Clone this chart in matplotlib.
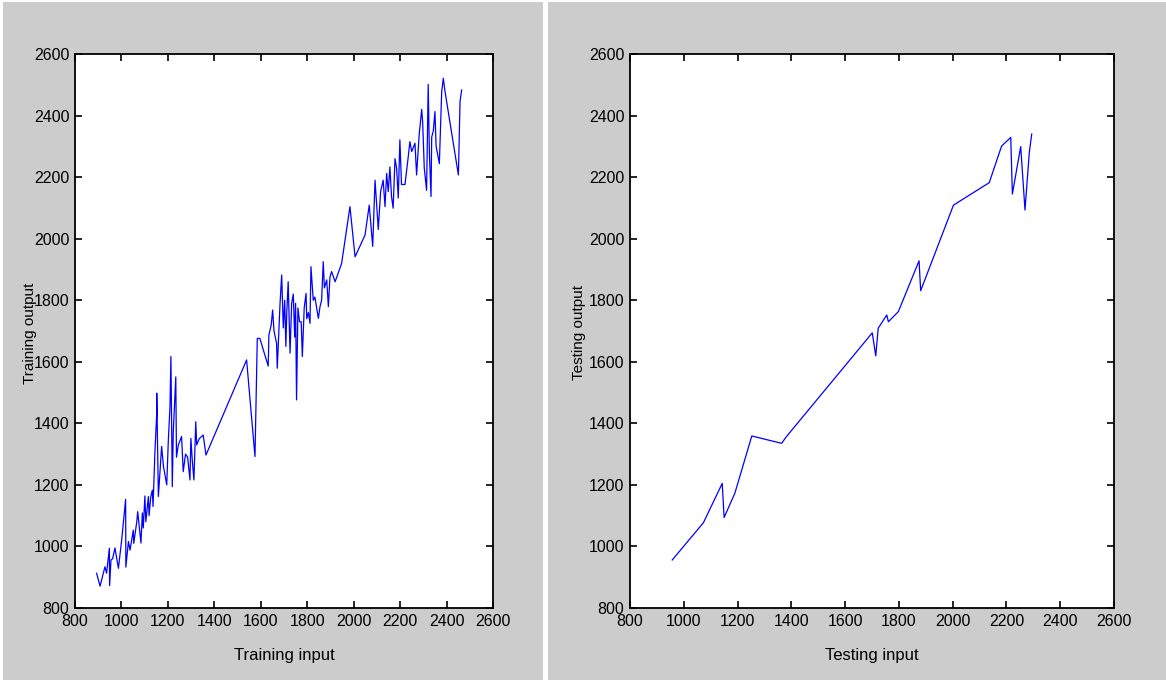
import matplotlib
matplotlib.use("Agg")
import matplotlib.pyplot as plt
from matplotlib.patches import Rectangle

# Training set: network input vs. output
train_input = [893, 908, 929, 936, 948, 949, 955, 962, 972, 987, 1001, 1018, 1019, 1030,
               1037, 1051, 1053, 1066, 1070, 1084, 1090, 1094, 1101, 1105, 1116, 1119,
               1126, 1133, 1136, 1144, 1152, 1152, 1159, 1173, 1181, 1195, 1202, 1209,
               1213, 1219, 1223, 1234, 1237, 1245, 1259, 1266, 1276, 1285, 1295, 1299,
               1305, 1312, 1320, 1324, 1335, 1352, 1364, 1539, 1575, 1585, 1596, 1632,
               1635, 1645, 1651, 1657, 1668, 1671, 1683, 1690, 1697, 1703, 1708, 1712,
               1718, 1726, 1733, 1740, 1746, 1750, 1754, 1760, 1767, 1774, 1779, 1787,
               1795, 1798, 1805, 1812, 1816, 1826, 1833, 1848, 1855, 1862, 1869, 1874,
               1884, 1891, 1898, 1905, 1920, 1948, 1984, 2006, 2049, 2067, 2082, 2092,
               2106, 2116, 2127, 2135, 2142, 2149, 2156, 2163, 2170, 2178, 2185, 2192,
               2199, 2206, 2221, 2235, 2242, 2250, 2264, 2271, 2282, 2293, 2297, 2304,
               2314, 2321, 2326, 2333, 2336, 2343, 2350, 2355, 2369, 2379, 2386, 2393,
               2451, 2458, 2465]
train_output = [913, 871, 934, 913, 994, 873, 956, 960, 995, 929, 1021, 1153, 933, 1016,
                988, 1053, 1010, 1080, 1113, 1011, 1109, 1060, 1164, 1080, 1162, 1100,
                1160, 1183, 1130, 1303, 1433, 1498, 1162, 1325, 1260, 1200, 1346, 1454,
                1617, 1194, 1368, 1551, 1290, 1330, 1357, 1243, 1300, 1290, 1216, 1351,
                1280, 1216, 1405, 1330, 1350, 1362, 1297, 1606, 1292, 1676, 1676, 1586,
                1687, 1720, 1768, 1700, 1660, 1579, 1790, 1882, 1710, 1800, 1650, 1760,
                1860, 1628, 1790, 1820, 1680, 1790, 1476, 1775, 1730, 1730, 1617, 1775,
                1822, 1740, 1760, 1725, 1909, 1800, 1810, 1741, 1779, 1800, 1925, 1840,
                1866, 1779, 1876, 1893, 1860, 1919, 2104, 1941, 2012, 2109, 1975, 2190,
                2030, 2153, 2190, 2104, 2212, 2153, 2233, 2137, 2099, 2260, 2228, 2132,
                2321, 2176, 2176, 2266, 2315, 2283, 2310, 2207, 2337, 2420, 2380, 2230,
                2157, 2501, 2280, 2137, 2330, 2350, 2413, 2300, 2244, 2477, 2521, 2480,
                2207, 2445, 2483]

# Testing set
test_input = [957, 1073, 1143, 1150, 1190, 1253, 1262, 1364, 1380, 1701, 1714, 1723,
              1755, 1761, 1798, 1875, 1881, 2003, 2136, 2182, 2216, 2222, 2253, 2269,
              2285, 2294]
test_output = [956, 1077, 1205, 1094, 1173, 1359, 1357, 1335, 1355, 1694, 1619, 1709,
               1752, 1730, 1763, 1928, 1831, 2109, 2182, 2301, 2329, 2145, 2299, 2093,
               2280, 2340]

ticks = list(range(800, 2601, 200))

W, H = 1166, 682
fig = plt.figure(figsize=(W / 100, H / 100), dpi=100, facecolor="white")

# grey MATLAB-style figure backgrounds, one per panel
for x0, x1 in [(3, 543), (548, 1166)]:
    fig.patches.append(Rectangle((x0 / W, 2 / H), (x1 - x0) / W, 678 / H,
                                 transform=fig.transFigure, facecolor="#cccccc",
                                 edgecolor="none", zorder=-10))

narrow = ["Liberation Sans Narrow", "Liberation Sans", "DejaVu Sans"]
normal = ["Liberation Sans", "DejaVu Sans"]

panels = [
    (75, 493, train_input, train_output, "Training input", "Training output", 30),
    (630, 1114, test_input, test_output, "Testing input", "Testing output", 579),
]

for x0, x1, xs, ys, xlab, ylab, ylab_x in panels:
    ax = fig.add_axes([x0 / W, (H - 608) / H, (x1 - x0) / W, 554 / H])
    ax.plot(xs, ys, color="#0000ff", lw=0.9)
    ax.set_xlim(800, 2600)
    ax.set_ylim(800, 2600)
    ax.set_xticks(ticks)
    ax.set_yticks(ticks)
    ax.tick_params(direction="in", length=5, width=1.2, top=True, right=True,
                   labelsize=11.5, pad=4, colors="black")
    for lbl in ax.get_xticklabels() + ax.get_yticklabels():
        lbl.set_family(narrow)
    for sp in ax.spines.values():
        sp.set_linewidth(1.3)
    ax.set_xlabel(xlab, family=narrow, fontsize=12, labelpad=14)
    fig.text(ylab_x / W, 1 - 333 / H, ylab, rotation=90, ha="center", va="center",
             family=normal, fontsize=11)

fig.savefig("out.png", dpi=100, facecolor=fig.get_facecolor())
